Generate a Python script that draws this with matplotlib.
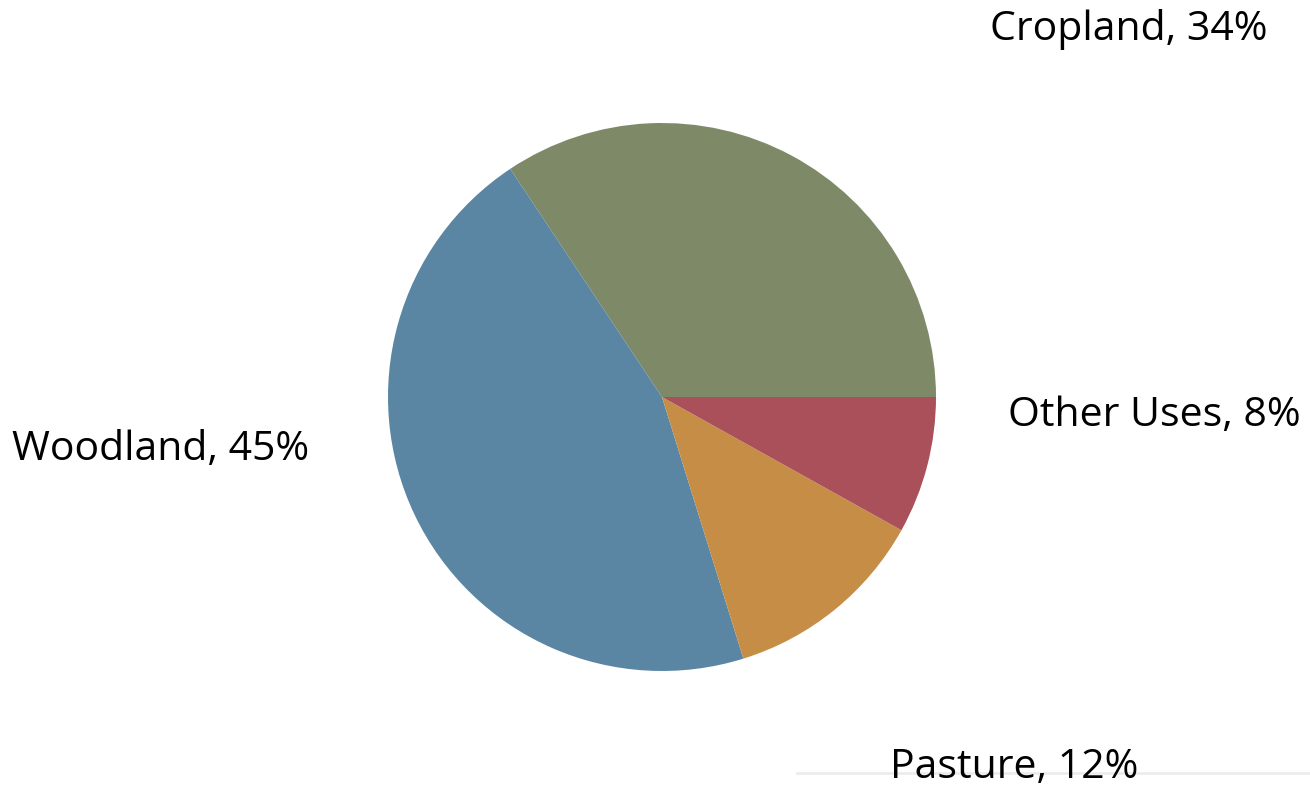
import matplotlib
matplotlib.use("Agg")
import matplotlib.pyplot as plt
from matplotlib.lines import Line2D

labels = ["Cropland", "Woodland", "Pasture", "Other Uses"]
shares = [34, 45, 12, 8]
colors = ["#7e8a67", "#5b86a3", "#c68d47", "#a9505a"]

# label anchor points (figure pixels, left edge / vertical centre)
W, H = 1310, 788
label_pos = {"Cropland": (990, 30), "Woodland": (12, 450),
             "Pasture": (890, 768), "Other Uses": (1008, 416)}

plt.rcParams["font.family"] = ["Open Sans", "DejaVu Sans"]

fig = plt.figure(figsize=(W / 100, H / 100), dpi=100)
cx, cy, r = 662, 397, 280
ax = fig.add_axes([(cx - r) / W, (H - cy - r) / H, 2 * r / W, 2 * r / H])
ax.pie(shares, colors=colors, startangle=0, counterclock=True, radius=274 / 280,
       wedgeprops=dict(linewidth=0))
ax.set_xlim(-1, 1); ax.set_ylim(-1, 1)
ax.set_aspect("equal")
ax.axis("off")

for lab, val in zip(labels, shares):
    x, y = label_pos[lab]
    fig.text(x / W, 1 - y / H, f"{lab}, {val}%", fontsize=29.5, ha="left", va="center",
             color="black")

# faint rule under the pasture label
fig.add_artist(Line2D([797 / W, 1], [1 - 773 / H] * 2, color="#ececec", lw=2))

fig.savefig("out.png", dpi=100)
